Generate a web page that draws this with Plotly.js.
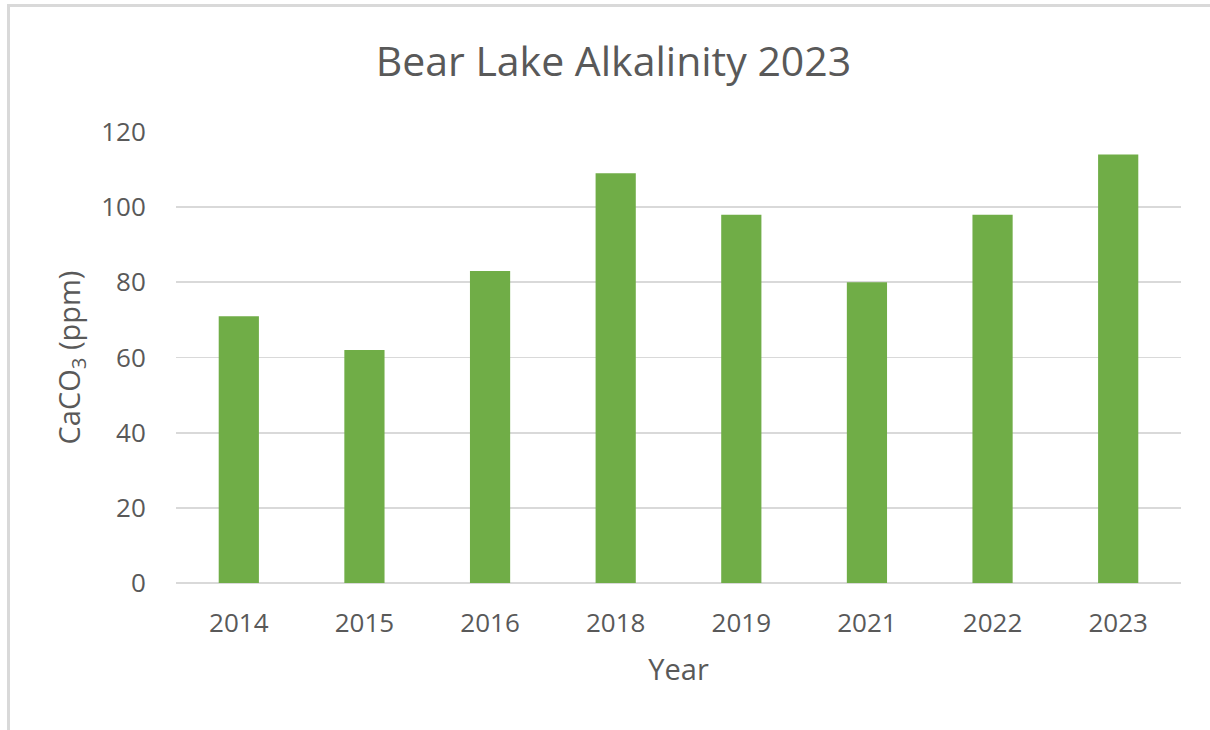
<!DOCTYPE html>
<html>
<head>
<meta charset="utf-8">
<script src="https://cdn.plot.ly/plotly-3.0.1.min.js"></script>
<style>
  html, body { margin: 0; padding: 0; background: #fff; }
  #wrap { position: relative; width: 1210px; height: 730px; overflow: hidden; }
  #frame { position: absolute; left: 7px; top: 4px; width: 1220px; height: 740px;
           border-top: 3px solid #d9d9d9; border-left: 3px solid #d9d9d9; box-sizing: border-box; pointer-events: none; z-index: 5; }
  #chart { position: absolute; left: 0; top: 0; width: 1210px; height: 730px; }
</style>
</head>
<body>
<div id="wrap">
  <div id="chart"></div>
  <div id="frame"></div>
</div>
<script>
const years = ['2014', '2015', '2016', '2018', '2019', '2021', '2022', '2023'];
const alkalinity = [71, 62, 83, 109, 98, 80, 98, 114];
const yTicks = [0, 20, 40, 60, 80, 100, 120];

const fontFamily = '"Open Sans", "Noto Sans", sans-serif';
const textColor = '#595959';

const data = [{
  type: 'bar',
  x: years,
  y: alkalinity,
  marker: { color: '#70AD47', line: { width: 0 } },
  hoverinfo: 'x+y'
}];

const layout = {
  width: 1210,
  height: 730,
  margin: { l: 176, r: 29, t: 132, b: 147, pad: 0 },
  paper_bgcolor: '#ffffff',
  plot_bgcolor: '#ffffff',
  bargap: 0.68,
  showlegend: false,
  font: { family: fontFamily, color: textColor },
  title: {
    text: 'Bear Lake Alkalinity 2023',
    font: { family: fontFamily, size: 41, color: textColor },
    x: 0.507, xanchor: 'center',
    y: 0.915, yanchor: 'middle'
  },
  xaxis: {
    type: 'category',
    tickfont: { family: fontFamily, size: 26, color: textColor },
    ticks: 'outside', ticklen: 17, tickcolor: 'rgba(0,0,0,0)',
    showline: false, showgrid: false, zeroline: false,
    title: { text: 'Year', font: { family: fontFamily, size: 29, color: textColor }, standoff: 20 },
    automargin: false
  },
  yaxis: {
    range: [0, 120],
    tickvals: yTicks,
    ticktext: yTicks.map(String),
    tickfont: { family: fontFamily, size: 26, color: textColor },
    ticks: 'outside', ticklen: 24, tickcolor: 'rgba(0,0,0,0)',
    showgrid: true, gridcolor: '#d9d9d9', gridwidth: 1.8,
    zeroline: true, zerolinecolor: '#d9d9d9', zerolinewidth: 1.8,
    showline: false,
    title: { text: 'CaCO<sub>3</sub> (ppm)', font: { family: fontFamily, size: 29, color: textColor }, standoff: 12 },
    automargin: false
  }
};

Plotly.newPlot('chart', data, layout, { displayModeBar: false, staticPlot: true });
</script>
</body>
</html>
